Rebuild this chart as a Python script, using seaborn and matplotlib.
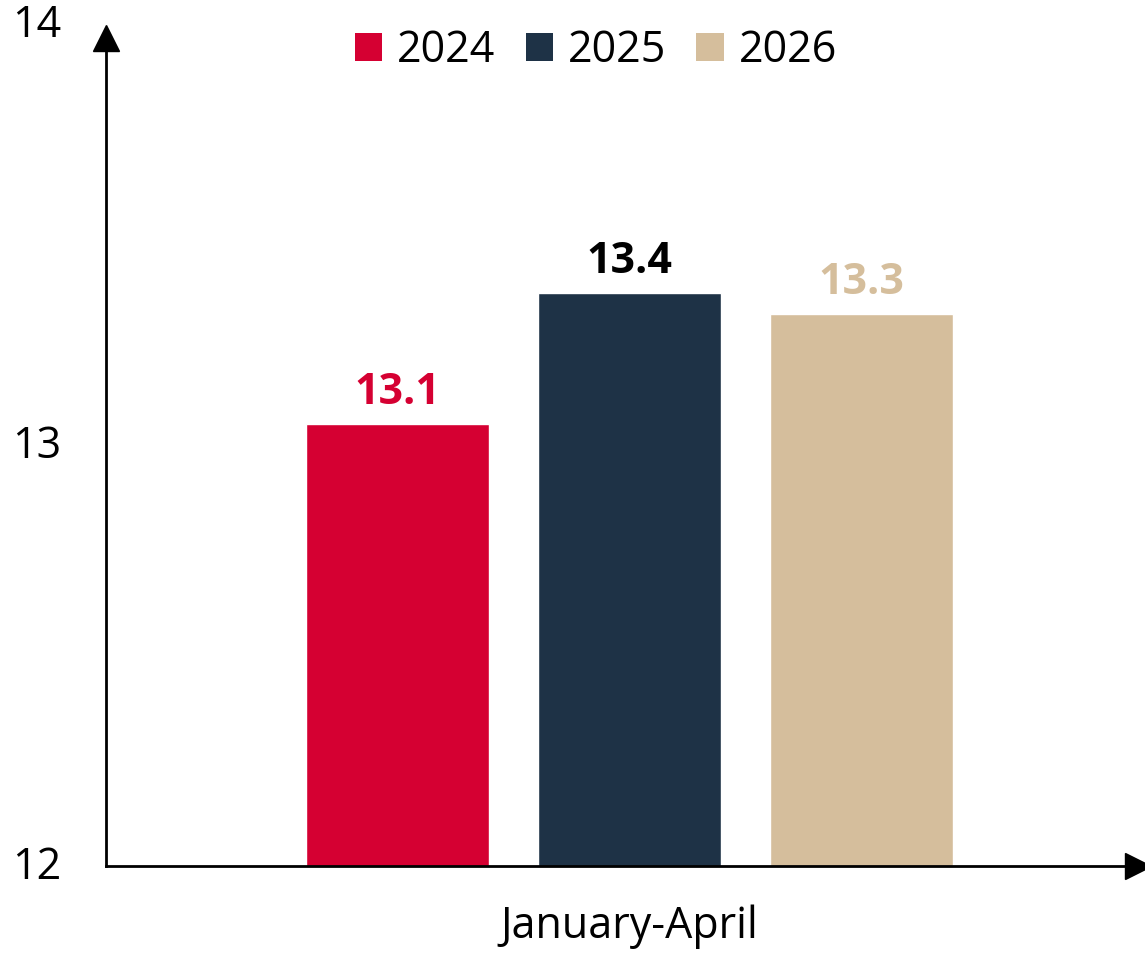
import matplotlib
matplotlib.use("Agg")
import matplotlib.pyplot as plt
import matplotlib.transforms as mtransforms
import seaborn as sns
import pandas as pd
from matplotlib.patches import Patch

# Data
years = ["2024", "2025", "2026"]
period = ["January-April", "January-April", "January-April"]
values = [13.05, 13.36, 13.31]
value_labels = ["13.1", "13.4", "13.3"]
colors = ["#D50032", "#1E3246", "#D5BE9C"]
label_colors = ["#D50032", "#000000", "#D5BE9C"]
y_ticks = [12, 13, 14]

sns.set_style("white")
plt.rcParams["font.family"] = ["Open Sans", "DejaVu Sans"]
plt.rcParams["text.color"] = "black"
plt.rcParams["xtick.color"] = "black"
plt.rcParams["ytick.color"] = "black"

FS = 31

df = pd.DataFrame({"period": period, "year": years, "value": values})

fig = plt.figure(figsize=(11.45, 9.55), dpi=100)
ax = fig.add_axes([106 / 1145, 89 / 955, 1 - 106 / 1145, (866 - 24) / 955])

sns.barplot(data=df, x="period", y="value", hue="year", hue_order=years,
            palette=colors, width=0.8, gap=0.21, ax=ax, legend=False,
            saturation=1, errorbar=None)

for cont, lab, col in zip(ax.containers, value_labels, label_colors):
    ax.bar_label(cont, labels=[lab], padding=7.5, color=col, fontsize=FS,
                 fontweight="bold")

ax.set_ylim(12, 14)
ax.set_xlim(-0.6017, 0.5925)
ax.set_yticks(y_ticks)
ax.set_yticklabels([str(t) for t in y_ticks])
ax.tick_params(axis="y", length=0, pad=32, labelsize=FS, labelcolor="black")
ax.tick_params(axis="x", length=0, pad=28, labelsize=FS, labelcolor="black")
ax.set_xlabel("")
ax.set_ylabel("")

offset = mtransforms.ScaledTranslation(0, 4 / 100, fig.dpi_scale_trans)
for lab in ax.get_yticklabels():
    lab.set_transform(lab.get_transform() + offset)

for s in ["top", "right"]:
    ax.spines[s].set_visible(False)
for s in ["left", "bottom"]:
    ax.spines[s].set_color("black")
    ax.spines[s].set_linewidth(2)
ax.spines["left"].set_bounds(12, 13.94)
ax.spines["bottom"].set_bounds(-0.6017, 0.57)

# arrow heads
ax.plot(0, 0.983, marker="^", markersize=19, color="black",
        transform=ax.transAxes, clip_on=False)
ax.plot(0.9937, 0, marker=">", markersize=19, color="black",
        transform=ax.transAxes, clip_on=False)

handles = [Patch(facecolor=c, edgecolor="none", label=y) for c, y in zip(colors, years)]
fig.legend(handles=handles, loc="center", bbox_to_anchor=(596 / 1145, 1 - 51 / 955),
           ncol=3, frameon=False, fontsize=FS, handlelength=0.63,
           handleheight=0.63, handletextpad=0.35, columnspacing=0.7,
           borderaxespad=0)

fig.savefig("out.png", dpi=100)
